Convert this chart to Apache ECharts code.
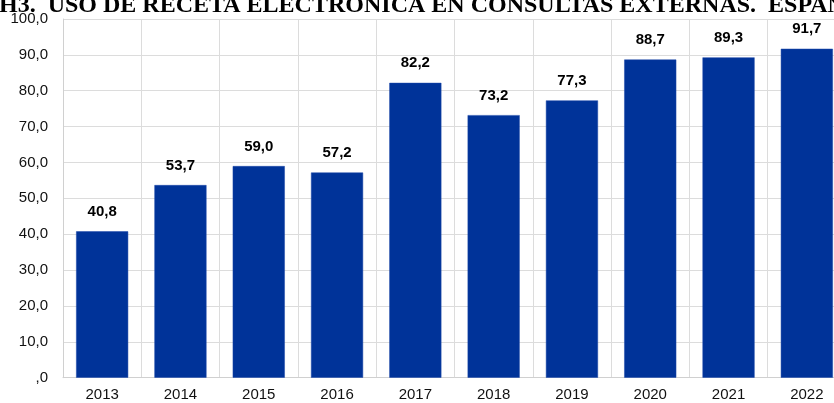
<!DOCTYPE html>
<html>
<head>
<meta charset="utf-8">
<script src="https://cdn.jsdelivr.net/npm/echarts@6/dist/echarts.min.js"></script>
<style>
html,body{margin:0;padding:0;overflow:hidden;background:#fff;width:834px;height:403px;}
#chart{width:846px;height:403px;}
</style>
</head>
<body>
<div id="chart"></div>
<script>
const titleText = 'H3.  USO DE RECETA ELECTRÓNICA EN CONSULTAS EXTERNAS.  ESPAÑA';
const years = ['2013','2014','2015','2016','2017','2018','2019','2020','2021','2022'];
const values = [40.8, 53.7, 59.0, 57.2, 82.2, 73.2, 77.3, 88.7, 89.3, 91.7];
const yTickValues = [0,10,20,30,40,50,60,70,80,90,100];
const yTickLabels = [',0','10,0','20,0','30,0','40,0','50,0','60,0','70,0','80,0','90,0','100,0'];

const chart = echarts.init(document.getElementById('chart'), null, {renderer:'canvas'});
chart.setOption({
  animation:false,
  backgroundColor:'#fff',
  graphic:[{
    type:'text', left:-1, top:-6.5, z:10,
    style:{text:titleText, fill:'#000', font:'bold 24px "Liberation Serif"'}
  }],
  grid:{left:63, right:0, top:19, bottom:25.3, containLabel:false},
  xAxis:{
    type:'category', data:years, boundaryGap:true,
    axisLine:{show:true, lineStyle:{color:'#d0d0d0', width:1}},
    axisTick:{show:false},
    axisLabel:{color:'#111', fontSize:15, fontFamily:'Liberation Sans', margin:10},
    splitLine:{show:true, interval:0, lineStyle:{color:'#dcdcdc', width:1}}
  },
  yAxis:{
    type:'value', min:0, max:100, interval:10,
    axisLine:{show:true, lineStyle:{color:'#d0d0d0'}},
    axisTick:{show:false},
    axisLabel:{color:'#111', fontSize:15, fontFamily:'Liberation Sans', margin:15,
      formatter:function(v){const i=yTickValues.indexOf(Math.round(v)); return i>=0?yTickLabels[i]:'';}},
    splitLine:{show:true, lineStyle:{color:'#dcdcdc', width:1}}
  },
  series:[{
    type:'bar', data:values, barCategoryGap:'33.5%',
    itemStyle:{color:'#003399', borderColor:'#1a47a8', borderWidth:0.5},
    label:{show:true, position:'top', distance:12, color:'#000', fontWeight:'bold', fontSize:15, fontFamily:'Liberation Sans',
      formatter:function(p){return p.value.toFixed(1).replace('.', ',');}}
  }]
});
</script>
</body>
</html>
